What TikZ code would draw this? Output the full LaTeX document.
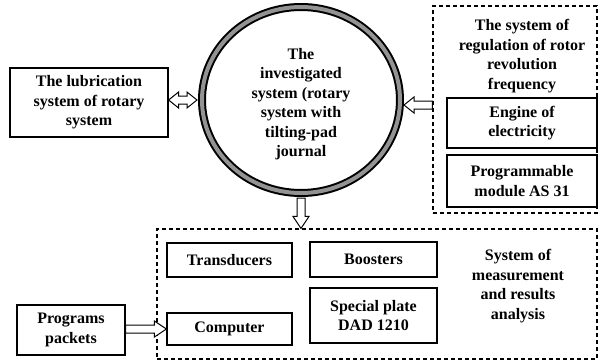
\documentclass[tikz,border=0pt]{standalone}
\usepackage{fontspec}
\setmainfont{Liberation Serif}
\usetikzlibrary{shapes.geometric,calc}
\begin{document}
\begin{tikzpicture}[x=1pt,y=-1pt,
  font=\fontsize{16}{19.5}\selectfont\bfseries,
  box/.style={draw, line width=1.2pt, align=center, inner sep=0pt},
  dbox/.style={draw, dash pattern=on 4pt off 3pt, line width=1.1pt, inner sep=0pt},
  txt/.style={align=center, inner sep=0pt},
  harrow/.style={draw, line width=1pt, fill=white, line join=miter}]
\useasboundingbox (0,0) rectangle (598,362);

% main ring
\node[ellipse, draw=black, double=gray!85, double distance=4pt, line width=2pt,
      minimum width=198pt, minimum height=186pt, inner sep=0pt]
  (circ) at (301,100) {};
\node[txt] (circt) at (301,104) {The\\investigated\\system (rotary\\system with\\tilting-pad\\journal};

% lubrication
\node[box, minimum width=158pt, minimum height=69pt] (lub) at (89,102.5)
  {The lubrication\\system of rotary\\system};

% regulation system
\node[dbox, minimum width=164pt, minimum height=207pt] (reg) at (515,109.5) {};
\node[txt] (regt) at (522,56) {The system of\\regulation of rotor\\revolution\\frequency};
\node[box, minimum width=150pt, minimum height=50pt] (eng) at (522,123) {Engine of\\electricity};
\node[box, minimum width=150pt, minimum height=52pt] (plc) at (522,181) {Programmable\\module AS 31};

% measurement system
\node[dbox, minimum width=440pt, minimum height=130pt] (meas) at (377,294) {};
\node[box, minimum width=125pt, minimum height=34pt] (trans) at (229.5,260) {Transducers};
\node[box, minimum width=127pt, minimum height=35pt] (boost) at (373.5,259.5) {Boosters};
\node[box, minimum width=125pt, minimum height=32pt] (comp) at (229.5,329) {Computer};
\node[box, minimum width=127pt, minimum height=55pt] (plate) at (373.5,315.5) {Special plate\\DAD 1210};
\node[txt] (meast) at (518,286) {System of\\measurement\\and results\\analysis};

% programs packets
\node[box, minimum width=108pt, minimum height=50pt] (prog) at (71,330) {Programs\\packets};

% hollow arrows
\coordinate (d1) at (lub.east |- circ.west);
\coordinate (d2) at ($(circ.west)+(-4,0)$);
\draw[harrow] (d1) -- ++(10,-8) -- ++(0,4) -- ($(d2)+(-10,-4)$) -- ++(0,-4) -- (d2)
  -- ++(-10,8) -- ++(0,-4) -- ($(d1)+(10,4)$) -- ++(0,4) -- cycle;

\coordinate (r1) at ($(reg.west)+(0,-4.5)$);
\coordinate (r2) at ($(circ.east |- r1)+(3,0)$);
\draw[harrow] (r2) -- ++(10,-8) -- ++(0,4) -- ($(r1)+(0,-4)$) -- ++(0,8)
  -- ($(r2)+(10,4)$) -- ++(0,4) -- cycle;

\coordinate (b1) at ($(circ.south)+(0,4)$);
\coordinate (b2) at (circ.south |- meas.north);
\draw[harrow] (b2) -- ++(-8,-12) -- ++(4,0) -- ($(b1)+(-4,0)$) -- ++(8,0)
  -- ($(b2)+(4,-12)$) -- ++(4,0) -- cycle;

\coordinate (p1) at (prog.east |- comp.west);
\draw[harrow] (comp.west) -- ++(-12,-8) -- ++(0,4) -- ($(p1)+(0,-4)$) -- ++(0,8)
  -- ($(comp.west)+(-12,4)$) -- ++(0,4) -- cycle;
\end{tikzpicture}
\end{document}
